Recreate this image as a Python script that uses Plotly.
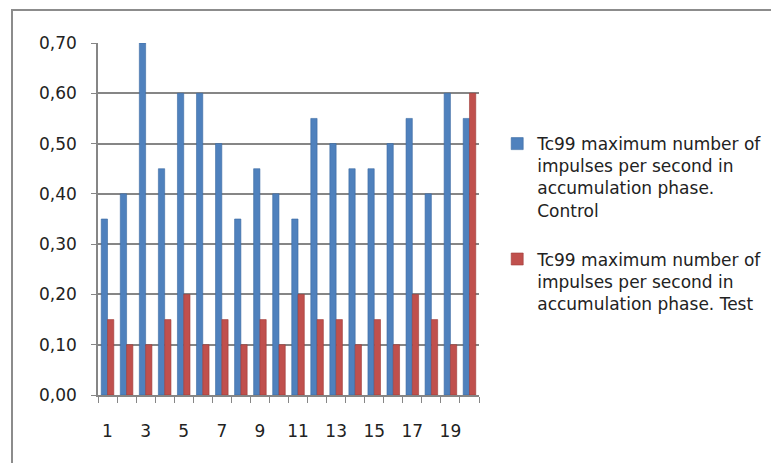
import plotly.graph_objs as go

categories = list(range(1, 21))
control = [0.35, 0.40, 0.70, 0.45, 0.60, 0.60, 0.50, 0.35, 0.45, 0.40,
           0.35, 0.55, 0.50, 0.45, 0.45, 0.50, 0.55, 0.40, 0.60, 0.55]
test = [0.15, 0.10, 0.10, 0.15, 0.20, 0.10, 0.15, 0.10, 0.15, 0.10,
        0.20, 0.15, 0.15, 0.10, 0.15, 0.10, 0.20, 0.15, 0.10, 0.60]
name_control = "Tc99 maximum number of<br>impulses per second in<br>accumulation phase.<br>Control"
name_test = "Tc99 maximum number of<br>impulses per second in<br>accumulation phase. Test"
x_labels = [1, 3, 5, 7, 9, 11, 13, 15, 17, 19]

font = dict(family="DejaVu Sans", size=17, color="#222222")

fig = go.Figure()
fig.add_trace(go.Bar(x=categories, y=control, name=name_control,
                     marker=dict(color="#4F81BD", line=dict(color="#3A6AA3", width=0.6)),
                     legendgroup="a"))
fig.add_trace(go.Bar(x=categories, y=test, name=name_test,
                     marker=dict(color="#C0504D", line=dict(color="#9E3A37", width=0.6)),
                     legendgroup="b"))

# page body adds 8px offset, margins are compensated for it
fig.update_layout(
    width=779, height=463,
    margin=dict(l=90, r=308, t=35, b=76),
    paper_bgcolor="white", plot_bgcolor="white",
    font=font,
    barmode="group", bargap=0.34, bargroupgap=0.0,
    separators=",.",
    showlegend=True,
    legend=dict(
        xref="container", yref="container",
        x=0.628, y=0.745, xanchor="left", yanchor="top",
        font=font, valign="top",
        traceorder="grouped", tracegroupgap=24,
        itemwidth=30, bgcolor="rgba(0,0,0,0)",
    ),
    shapes=[dict(type="rect", xref="paper", yref="paper",
                 x0=(4 - 90) / 381, x1=1.9, y0=-0.4, y1=1 + (35 - 2) / 352,
                 line=dict(color="#8C8C8C", width=2), fillcolor="rgba(0,0,0,0)",
                 layer="below")],
)
fig.update_yaxes(
    range=[0, 0.70], tickvals=[0, 0.1, 0.2, 0.3, 0.4, 0.5, 0.6, 0.7],
    tickformat=".2f", showgrid=True, gridcolor="#868686", gridwidth=1.5,
    showline=True, linecolor="#868686", linewidth=1.5,
    ticks="outside", ticklen=5, tickcolor="#868686", ticklabelstandoff=11,
    zeroline=False,
)
fig.update_xaxes(
    range=[0.5, 20.5], tickmode="array", tickvals=x_labels,
    ticks="", ticklabelstandoff=20, showgrid=False,
    showline=True, linecolor="#868686", linewidth=2,
    minor=dict(tick0=0.5, dtick=1, ticks="outside", ticklen=6,
               tickcolor="#868686", showgrid=False),
)
fig.write_html("out.html")
